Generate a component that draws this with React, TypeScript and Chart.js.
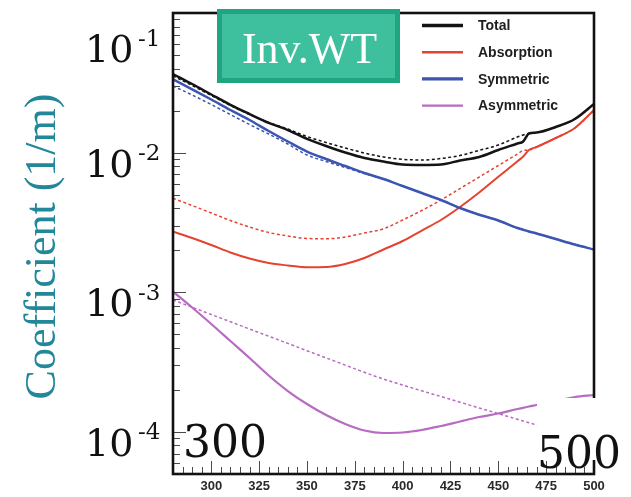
import React, { useEffect, useRef } from "react";
import { Chart, registerables } from "chart.js";

Chart.register(...registerables);

// ---------- data ----------
const WAVELENGTHS = [280, 290, 300, 310, 320, 330, 340, 350, 360, 370, 380, 390, 400, 410, 420, 430, 440, 450, 460, 463, 466, 470, 480, 490, 500];

const TOTAL = [0.03657, 0.03101, 0.02609, 0.02202, 0.01891, 0.01635, 0.01452, 0.01256, 0.01116, 0.010025, 0.009156, 0.008643, 0.008225, 0.008159, 0.008225, 0.008786, 0.009307, 0.01045, 0.01163, 0.01202, 0.01371, 0.01394, 0.01526, 0.01741, 0.02231];
const TOTAL_DASHED = [0.03539, 0.03025, 0.02566, 0.02176, 0.01875, 0.01643, 0.01476, 0.01305, 0.01182, 0.0108, 0.009943, 0.009307, 0.00896, 0.008858, 0.009081, 0.009541, 0.01039, 0.01134, 0.01295, 0.01338, 0.01371, 0.01394, 0.01526, 0.01741, 0.02231];

const ABSORPTION = [0.002716, 0.002447, 0.002181, 0.001928, 0.001746, 0.001621, 0.001556, 0.00151, 0.001517, 0.001595, 0.00176, 0.002025, 0.00233, 0.00277, 0.003294, 0.004082, 0.005183, 0.006716, 0.008673, 0.009384, 0.01045, 0.01098, 0.01273, 0.01502, 0.0202];
const ABSORPTION_DASHED = [0.004711, 0.004182, 0.003696, 0.003266, 0.002934, 0.00268, 0.00253, 0.002428, 0.002416, 0.002489, 0.002658, 0.002848, 0.003294, 0.003853, 0.00458, 0.005535, 0.006691, 0.008091, 0.009779, 0.01036, 0.01045, 0.01098, 0.01273, 0.01502, 0.0202];

const SYMMETRIC = [0.03351, 0.02842, 0.02402, 0.0202, 0.01713, 0.01429, 0.01202, 0.01019, 0.009005, 0.008025, 0.007149, 0.006476, 0.00577, 0.005142, 0.00458, 0.004015, 0.003594, 0.003266, 0.002886, 0.002803, 0.002725, 0.002636, 0.002408, 0.002199, 0.002025];
const SYMMETRIC_DASHED = [0.03, 0.02587, 0.02212, 0.01875, 0.0159, 0.0136, 0.01153, 0.00962, 0.008643, 0.007829, 0.00709, 0.006476, 0.00577, 0.005142, 0.00458, 0.004015, 0.003594, 0.003266, 0.002886, 0.002803, 0.002725, 0.002636, 0.002408, 0.002199, 0.002025];

const ASYMMETRIC = [0.00101, 0.0007781, 0.0005929, 0.000448, 0.0003385, 0.0002537, 0.0001964, 0.0001585, 0.0001322, 0.000114, 0.0001024, 0.0000983, 0.0000991, 0.0001033, 0.0001103, 0.0001188, 0.0001279, 0.0001355, 0.000146, 0.0001489, 0.0001521, 0.000156, 0.0001666, 0.0001779, 0.0001839];
const ASYMMETRIC_DASHED = [0.000881, 0.000782, 0.0006934, 0.0006157, 0.0005459, 0.0004848, 0.0004306, 0.0003817, 0.0003391, 0.0003011, 0.0002673, 0.0002393, 0.0002168, 0.000197, 0.0001794, 0.0001633, 0.0001484, 0.0001353, 0.0001232, 0.0001198, 0.0001165, 0.0001122, 0.0001024, 0.0000935, 0.0000854];

const X_TICKS = [300, 325, 350, 375, 400, 425, 450, 475, 500];
const Y_DECADES = [0.1, 0.01, 0.001, 0.0001];
const Y_EXPONENTS = ["-1", "-2", "-3", "-4"];
const LEGEND_LABELS = ["Total", "Absorption", "Symmetric", "Asymmetric"];
const TITLE_Y = "Coefficient (1/m)";
const BADGE = "Inv.WT";
const CORNER_LEFT = "300";
const CORNER_RIGHT = "500";

// ---------- styles ----------
const X_MIN = 280;
const X_MAX = 500;
const Y_MIN = 5e-5;
const Y_MAX = 0.1;

const BLACK = "#141414";
const RED = "#e5432f";
const BLUE = "#3b55b0";
const PURPLE = "#b86bc2";
const LEGEND_COLORS = [BLACK, RED, BLUE, PURPLE];
const LEGEND_WIDTHS = [3.3, 2.5, 3.3, 2.3];

const pts = (ys: number[]) => WAVELENGTHS.map((x, i) => ({ x, y: ys[i] }));

const overlayPlugin = {
  id: "overlay",
  afterDraw(chart: any) {
    const { ctx, chartArea: a, scales } = chart;
    const xs = scales.x;
    const ys = scales.y;
    ctx.save();

    // inward tick marks
    ctx.strokeStyle = "#4a4a4a";
    ctx.lineWidth = 1;
    ctx.beginPath();
    for (let v = X_MIN; v <= X_MAX; v += 5) {
      const px = Math.round(xs.getPixelForValue(v)) + 0.5;
      const len = v % 25 === 0 ? 13 : 7;
      ctx.moveTo(px, a.bottom);
      ctx.lineTo(px, a.bottom - len);
    }
    for (let e = -5; e <= -1; e++) {
      for (let k = 1; k <= 9; k++) {
        const v = k * Math.pow(10, e);
        if (v < Y_MIN * 0.999 || v > Y_MAX * 1.001) continue;
        const py = Math.round(ys.getPixelForValue(v)) + 0.5;
        const len = k === 1 ? 13 : 7;
        ctx.moveTo(a.left, py);
        ctx.lineTo(a.left + len, py);
      }
    }
    ctx.stroke();

    // frame
    ctx.strokeStyle = "#111";
    ctx.lineWidth = 2.6;
    ctx.strokeRect(a.left, a.top, a.right - a.left, a.bottom - a.top);

    // legend
    const lx = a.right - 172;
    LEGEND_LABELS.forEach((label, i) => {
      const ly = a.top + 12.5 + i * 26.7;
      ctx.strokeStyle = LEGEND_COLORS[i];
      ctx.lineWidth = LEGEND_WIDTHS[i];
      ctx.beginPath();
      ctx.moveTo(lx, ly);
      ctx.lineTo(lx + 41, ly);
      ctx.stroke();
      ctx.fillStyle = "#1e1e1e";
      ctx.font = "bold 14px 'Liberation Sans', Arial, sans-serif";
      ctx.textAlign = "left";
      ctx.textBaseline = "middle";
      ctx.fillText(label, lx + 56, ly + 1);
    });

    // badge
    const bx = a.left + 44;
    const by = 9;
    const bw = 183;
    const bh = 74;
    ctx.fillStyle = "#1fa680";
    ctx.fillRect(bx, by, bw, bh);
    ctx.fillStyle = "#3ec09e";
    ctx.fillRect(bx + 5, by + 5, bw - 10, bh - 10);
    ctx.fillStyle = "#ffffff";
    ctx.font = "44px 'Liberation Serif', serif";
    ctx.textAlign = "center";
    ctx.textBaseline = "alphabetic";
    ctx.fillText(BADGE, bx + bw / 2 + 1, by + 54);

    // corner big labels
    ctx.fillStyle = "#ffffff";
    ctx.fillRect(537, 398, 94, 62);
    ctx.fillStyle = "#111";
    ctx.font = "44px 'DejaVu Serif', serif";
    ctx.textAlign = "left";
    ctx.fillText(CORNER_RIGHT, 537, 468);
    ctx.fillText(CORNER_LEFT, 183, 457);

    // big y labels
    Y_DECADES.forEach((d, i) => {
      const tickY = ys.getPixelForValue(d);
      const base = Math.max(tickY + 24, 62);
      ctx.fillStyle = "#111";
      ctx.textAlign = "left";
      ctx.font = "38px 'DejaVu Serif', serif";
      ctx.fillText("10", 85, base);
      ctx.font = "23px 'DejaVu Serif', serif";
      ctx.fillText(Y_EXPONENTS[i], 138, base - 16.5);
    });

    // y title
    ctx.save();
    ctx.translate(55, 246.5);
    ctx.rotate(-Math.PI / 2);
    ctx.fillStyle = "#23879a";
    ctx.font = "44px 'Liberation Serif', serif";
    ctx.textAlign = "center";
    ctx.textBaseline = "alphabetic";
    ctx.fillText(TITLE_Y, 0, 0);
    ctx.restore();

    ctx.restore();
  },
};

export default function App() {
  const ref = useRef<HTMLCanvasElement | null>(null);

  useEffect(() => {
    if (!ref.current) return;
    const solid = (label: string, data: number[], color: string, width: number) => ({
      label,
      data: pts(data),
      borderColor: color,
      backgroundColor: color,
      borderWidth: width,
      pointRadius: 0,
      fill: false,
      cubicInterpolationMode: "monotone" as const,
    });
    const dashed = (label: string, data: number[], color: string) => ({
      ...solid(label, data, color, 1.5),
      borderDash: [3, 2.5],
    });

    const chart = new Chart(ref.current, {
      type: "line",
      data: {
        datasets: [
          solid("Total", TOTAL, BLACK, 2.5),
          dashed("Total (dashed)", TOTAL_DASHED, BLACK),
          solid("Symmetric", SYMMETRIC, BLUE, 2.5),
          dashed("Symmetric (dashed)", SYMMETRIC_DASHED, BLUE),
          solid("Absorption", ABSORPTION, RED, 2),
          dashed("Absorption (dashed)", ABSORPTION_DASHED, RED),
          solid("Asymmetric", ASYMMETRIC, PURPLE, 2.2),
          dashed("Asymmetric (dashed)", ASYMMETRIC_DASHED, PURPLE),
        ],
      },
      options: {
        responsive: false,
        maintainAspectRatio: false,
        animation: false,
        devicePixelRatio: 1,
        layout: { padding: { left: 173, top: 13, right: 37, bottom: 0 } },
        plugins: { legend: { display: false }, tooltip: { enabled: false } },
        scales: {
          x: {
            type: "linear",
            min: X_MIN,
            max: X_MAX,
            grid: { display: false, drawTicks: false },
            border: { display: false },
            ticks: {
              autoSkip: false,
              maxRotation: 0,
              padding: 5,
              color: "#2a2a2a",
              font: { family: "'Liberation Sans', Arial, sans-serif", size: 13, weight: "bold" },
            },
            afterBuildTicks: (scale: any) => {
              scale.ticks = X_TICKS.map((v) => ({ value: v }));
            },
            afterFit: (scale: any) => {
              scale.height = 23;
            },
          },
          y: {
            type: "logarithmic",
            min: Y_MIN,
            max: Y_MAX,
            display: false,
          },
        },
      },
      plugins: [overlayPlugin],
    } as any);
    return () => chart.destroy();
  }, []);

  return (
    <div style={{ position: "absolute", left: 0, top: 0, width: 631, height: 497, background: "#fff" }}>
      <canvas ref={ref} width={631} height={497} style={{ width: 631, height: 497, display: "block" }} />
    </div>
  );
}
